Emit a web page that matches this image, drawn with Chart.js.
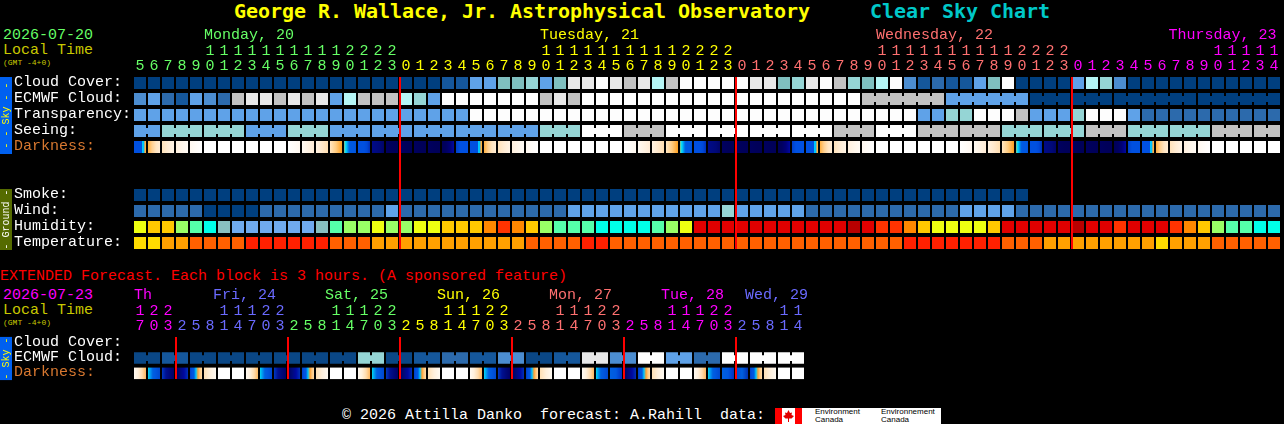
<!DOCTYPE html>
<html><head><meta charset="utf-8">
<script src="https://cdn.jsdelivr.net/npm/chart.js@4"></script>
<style>
html,body{margin:0;padding:0;background:#000;overflow:hidden}
#page{position:relative;width:1284px;height:424px;background:#000;overflow:hidden}
canvas{position:absolute;left:0}
.t{position:absolute;white-space:pre;font:15px/16px "Liberation Mono",monospace}
.title{font:bold 20px/24px "DejaVu Sans Mono",monospace;letter-spacing:-0.04px}
.s{font:8px/9px "Liberation Mono",monospace;color:#c8c800}
.logo{position:absolute;font:8px/8px "Liberation Sans",sans-serif;color:#000;white-space:pre}
.r{position:absolute}
</style></head><body><div id="page">
<div class="t title" style="left:234px;top:-1px;color:#ffff00">George R. Wallace, Jr. Astrophysical Observatory</div>
<div class="t title" style="left:870px;top:-1px;color:#00c8c8">Clear Sky Chart</div>
<div class="t" style="left:3px;top:28px;color:#66ff66">2026-07-20</div>
<div class="t" style="left:3px;top:43px;color:#c8c800">Local Time</div>
<div class="t s" style="left:3px;top:58px">(GMT -4+0)</div>
<canvas id="main" width="1284" height="265" style="top:0"></canvas>
<div class="t" style="left:0;top:269px;color:#ff0000">EXTENDED Forecast. Each block is 3 hours. (A sponsored feature)</div>
<div class="t" style="left:3px;top:288px;color:#ff00ff">2026-07-23</div>
<div class="t" style="left:3px;top:303px;color:#c8c800">Local Time</div>
<div class="t s" style="left:3px;top:318px">(GMT -4+0)</div>
<canvas id="ext" width="1284" height="125" style="top:265px"></canvas>
<div class="t" style="left:342px;top:408px;color:#fff">© 2026 Attilla Danko  forecast: A.Rahill  data:</div>
<div class="r" style="left:775px;top:408px;width:166px;height:16px;background:#fff"></div>
<div class="r" style="left:775px;top:408px;width:7px;height:16px;background:#ff0000"></div>
<div class="r" style="left:795px;top:408px;width:7px;height:16px;background:#ff0000"></div>
<svg class="r" style="left:782px;top:408px" width="13" height="16"><polygon fill="#e00000" points="6.5,2 8,5 10,4.5 9.5,7 12,8 9.5,10.5 7,10.5 7,14 6,14 6,10.5 3.5,10.5 1,8 3.5,7 3,4.5 5,5" /></svg>
<div class="logo" style="left:815px;top:408px">Environment
Canada</div>
<div class="logo" style="left:881px;top:408px">Environnement
Canada</div>
</div>
<script>
// ---------- Main forecast (one block per hour) ----------
const hours = [5,6,7,8,9,10,11,12,13,14,15,16,17,18,19,20,21,22,23,
 0,1,2,3,4,5,6,7,8,9,10,11,12,13,14,15,16,17,18,19,20,21,22,23,
 0,1,2,3,4,5,6,7,8,9,10,11,12,13,14,15,16,17,18,19,20,21,22,23,
 0,1,2,3,4,5,6,7,8,9,10,11,12,13,14];
const cloudCover = [0,0,0,0,0,0,0,0,0,0,0,0,0,0,0,0,0,0,0,0,0,0,1,1,4,4,5,5,6,4,5,9,9,10,9,8,9,7,8,10,10,10,10,10,9,9,5,6,9,10,8,6,5,7,10,3,1,2,1,1,4,5,10,0,0,0,0,4,7,6,3,0,0,0,0,0,0,0,0,0,0,0];
const ecmwfCloud = [3,4,2,1,4,3,2,8,9,9,8,9,8,9,4,7,8,8,8,7,6,4,10,10,10,10,10,10,10,8,9,8,10,10,10,10,10,10,10,10,10,10,10,10,10,10,10,10,10,10,10,10,8,8,8,8,8,8,4,4,4,4,4,4,0,0,0,0,0,0,0,0,0,0,0,0,0,0,0,0,0,0];
const ecmwfBlockEnds = [57,63,66,69,75];
const ecmwfBlockFrom = 52;
const transparency = [4,4,4,4,4,4,4,4,4,4,4,4,4,4,4,4,4,4,4,4,4,4,4,4,10,10,10,10,10,10,10,10,10,10,10,10,10,10,10,10,10,10,10,10,10,10,10,10,10,10,10,10,10,10,10,10,4,4,6,6,10,10,10,8,4,4,4,6,10,10,10,4,2,2,2,2,2,2,2,2,2,2];
const seeing = [4,4,6,6,6,6,6,6,4,4,4,6,6,6,4,4,4,4,4,4,4,4,4,4,4,4,4,4,4,6,6,6,10,10,10,8,8,8,10,10,10,10,10,10,10,10,10,10,10,10,8,8,8,10,10,10,8,8,8,8,8,8,6,6,6,6,6,6,8,8,8,6,6,6,6,6,6,8,8,8,8,8];
const darkness = ["D","e","f","g","h","w","w","w","w","w","w","i","j","k","l","U","V","X","N","N","N","N","P","Q",
 "D","e","f","g","h","w","w","w","w","w","w","i","j","k","l","U","V","X","N","N","N","N","P","Q",
 "D","e","f","g","h","w","w","w","w","w","w","i","j","k","l","U","V","X","N","N","N","N","P","Q",
 "D","e","f","g","h","w","w","w","w","w"];
const smoke = [0,0,0,0,0,0,0,0,0,0,0,0,0,0,0,0,0,0,0,0,0,0,0,0,0,0,0,0,0,0,0,0,0,0,0,0,0,0,0,0,0,0,0,0,0,0,0,0,0,0,0,0,0,0,0,0,0,0,0,0,0,0,0,0];
const wind = [2,2,2,2,2,0,0,0,0,2,2,2,2,2,2,2,2,2,4,2,2,2,2,2,2,2,2,2,2,2,2,4,4,4,4,4,4,4,4,4,4,4,6,4,4,4,4,4,2,2,2,2,2,2,2,2,2,2,2,4,4,4,4,2,2,2,2,2,2,2,2,2,2,2,2,2,2,2,2,2,2,2];
const humidity = [5,6,6,4,3,2,1,0,0,0,0,0,0,1,3,4,4,5,4,4,5,5,6,6,6,7,8,7,6,4,3,3,3,2,2,2,2,3,4,5,9,9,9,9,9,9,9,9,9,9,9,10,9,8,8,7,6,5,5,5,5,6,9,9,9,9,9,10,9,9,8,9,9,9,8,7,6,4,3,3,2,2];
const temperature = [0,0,1,1,2,2,2,2,3,3,3,3,3,3,2,2,2,1,1,1,1,1,1,1,1,1,1,1,2,2,2,2,3,3,2,2,2,2,2,2,2,2,2,2,2,2,2,2,2,2,2,2,2,2,2,3,3,3,3,3,3,3,2,2,2,1,1,1,1,1,1,1,1,0,1,1,1,2,2,2,2,2];
const mainRows = ["Cloud Cover:","ECMWF Cloud:","Transparency:","Seeing:","Darkness:","","","Smoke:","Wind:","Humidity:","Temperature:"];
const mainDayNames = ["Monday, 20","Tuesday, 21","Wednesday, 22","Thursday, 23"];
const mainDayCols = [5,29,53,73.9];

// ---------- Extended forecast (one block per 3 hours) ----------
const extHours = [17,20,23,2,5,8,11,14,17,20,23,2,5,8,11,14,17,20,23,2,5,8,11,14,17,20,23,2,5,8,11,14,17,20,23,2,5,8,11,14,17,20,23,2,5,8,11,14];
const extEcmwf = [11,11,1,1,11,11,11,11,11,11,11,11,11,11,11,11,6,6,11,11,1,1,2,2,1,1,3,3,11,11,1,1,9,9,3,3,10,10,4,4,2,2,10,10,10,10,10,10];
const extDarkness = ["r","s","t","u","v","x","w","w","r","s","t","u","v","x","w","w","r","s","t","u","v","x","w","w","r","s","t","u","v","x","w","w","r","s","T","u","v","x","w","w","r","s","T","Y","v","x","w","w"];
const extRows = ["Cloud Cover:","ECMWF Cloud:","Darkness:"];
const extDayNames = ["Th","Fri, 24","Sat, 25","Sun, 26","Mon, 27","Tue, 28","Wed, 29"];
const extDayCols = [0,5.64,13.64,21.64,29.64,37.64,43.64];

// ---------- Palettes ----------
const GREEN="#66ff66",YEL="#ffff00",SALMON="#ff7070",MAG="#ff00ff",PERI="#6a6aff";
const mainDayColors=[GREEN,YEL,SALMON,MAG];
const extDayColors=[MAG,PERI,GREEN,YEL,SALMON,MAG,PERI];
const skyColors=["#003f7f","#15579b","#2c6aac","#4c8dd0","#5fa2e8","#7fbfbf","#95d5d5","#b5f5f5","#c2c2c2","#e8e8e8","#fdfdfd","#0a4786"];
const humidityColors=["#70aaee","#88c0c0","#00ffe8","#55ffaa","#99ff66","#eeff11","#ffc800","#ff8800","#ff3300","#e00000","#b80000"];
const tempColors=["#ffdc00","#ffa000","#ff6000","#ff2000"];
const darkStops={
 D:["#0050e0","#0050e0","#0050e0","#0050e0","#0050e0","#0050e0","#0050e0","#0050e0","#00e8ff","#00b0ff","#ffb040","#ffb040"],
 e:["#ffb040","#ffd090","#ffe4c0","#ffecd4"],
 f:["#ffe2ba","#ffecd4","#fff4e6"],
 g:["#fff0de","#fff6ea","#fffbf5"],
 h:["#fff8f0","#fffcf8","#ffffff"],
 w:["#ffffff","#ffffff"],
 i:["#ffffff","#fffcf8","#fff8f0"],
 j:["#fffaf3","#fff3e4","#ffecd6"],
 k:["#fff2e2","#ffe8cc","#ffdeb0"],
 l:["#ffe6c2","#ffcc80","#ffa020"],
 U:["#90c080","#00e0ff","#00a0f0","#0060e0","#0058e0","#0058e0","#0058e0","#0050d8"],
 V:["#0050e0","#0050e0","#0050e0","#0048d8","#0030b8"],
 X:["#000a88","#000a80","#000878","#000468"],
 N:["#000060","#00005a","#000058"],
 P:["#000058","#000060","#000078","#0008a0"],
 Q:["#0040c8","#0050e0","#0050e0","#0050e0"],
 r:["#fffaf2","#fff0dc","#ffdcae","#ffb860"],
 s:["#00d8f0","#0098f0","#0060e0","#0058e0","#0050d8","#0048d0"],
 t:["#0038c0","#001090","#000878","#000068"],
 T:["#0060e0","#0058e0","#0030c0"],
 u:["#000060","#000a78","#0008a0","#0030b8"],
 Y:["#0048d0","#0060e0","#0030b0"],
 v:["#0040c8","#0050e0","#0058e0","#00c8ff","#ffa030","#ffc880","#ffdca8"],
 x:["#ffe0b4","#fff0dc","#fffaf2"]
};
const MONO='"Liberation Mono",monospace';
const CELL_HALF=0.375, BRIDGE_HALF=0.1875, NOTCH=6/14;

function cells(values,row,colors){
  return {data:values.map((v,i)=>({x:i,y:[row-CELL_HALF,row+CELL_HALF]})),
    backgroundColor:values.map(v=>colors[v]),barThickness:12,grouped:false,inflateAmount:0,borderWidth:0};
}
function bridges(values,row,colors,joined){
  const idx=values.map((v,i)=>i).filter(i=>i<values.length-1&&joined(i));
  return {data:idx.map(i=>({x:i+0.5,y:[row-BRIDGE_HALF,row+BRIDGE_HALF]})),
    backgroundColor:idx.map(i=>colors[values[i]]),barThickness:2,grouped:false,inflateAmount:0,borderWidth:0};
}
function gradientCells(tokens,row){
  return {data:tokens.map((v,i)=>({x:i,y:[row-CELL_HALF,row+CELL_HALF]})),barThickness:12,grouped:false,inflateAmount:0,borderWidth:0,
    backgroundColor(c){
      if(c.type!=="data")return "#000";
      const stops=darkStops[tokens[c.dataIndex]];
      const px=c.chart.scales.x.getPixelForValue(c.dataIndex);
      if(!isFinite(px))return stops[0];
      const g=c.chart.ctx.createLinearGradient(px-6,0,px+6,0);
      stops.forEach((s,k)=>g.addColorStop(k/(stops.length-1),s));
      return g;
    }};
}
function midnightLine(cols,lastRow){
  return {order:-1,data:cols.map(i=>({x:i-NOTCH,y:[-CELL_HALF,lastRow+CELL_HALF]})),backgroundColor:"#ff0000",barThickness:2,grouped:false,inflateAmount:0,borderWidth:0};
}
function dayIndex(hs){let d=0;return hs.map((h,i)=>{if(i&&h<hs[i-1])d++;return d;});}
function midnights(hs){return hs.map((h,i)=>i).filter(i=>i&&hs[i]<hs[i-1]);}

const headPlugin={id:"head",afterDraw(chart,_,o){
  const c=chart.ctx,x=chart.scales.x,y=chart.scales.y,top=chart.chartArea.top;
  c.save();c.textBaseline="middle";c.textAlign="left";c.font="15px "+MONO;
  o.names.forEach((n,k)=>{c.fillStyle=o.colors[k];c.fillText(n,x.getPixelForValue(o.cols[k])-6,top-40);});
  o.bars.forEach(b=>{
    const a=y.getPixelForValue(b.from-CELL_HALF),e=y.getPixelForValue(b.to+CELL_HALF)+1;
    c.fillStyle=b.fill;c.fillRect(0,a,12,e-a);
    c.save();c.translate(6,(a+e)/2);c.rotate(-Math.PI/2);c.textAlign="center";c.font="10px "+MONO;c.fillStyle=b.ink;c.fillText(b.text,0,0);c.restore();
  });
  c.restore();
}};

function build(id,hs,rows,datasets,bottomPad,rightPad,topH,dayColors,names,cols,bars){
  const days=dayIndex(hs);
  new Chart(document.getElementById(id),{type:"bar",plugins:[headPlugin],
    data:{datasets},
    options:{responsive:false,animation:false,devicePixelRatio:1,
      layout:{padding:{left:14,right:rightPad,top:0,bottom:bottomPad}},
      plugins:{legend:{display:false},tooltip:{enabled:false},title:{display:false},
        head:{names,cols,colors:names.map((_,k)=>dayColors[k]),bars}},
      scales:{
        x:{type:"linear",position:"top",offset:false,min:-0.5,max:hs.length-0.5,
          afterBuildTicks:s=>{s.ticks=hs.map((_,i)=>({value:i}));},
          afterFit:s=>{s.height=topH;},
          grid:{display:false,drawTicks:false,offset:false},border:{display:false},
          ticks:{autoSkip:false,maxRotation:0,minRotation:0,padding:1,
            font:{family:MONO,size:15,lineHeight:1},
            color:c=>dayColors[days[c.index]],
            callback:(v)=>{const h=hs[v];return h>9?[String(Math.floor(h/10)),String(h%10)]:[" ",String(h)];}}},
        y:{type:"linear",reverse:true,offset:false,min:-0.5,max:rows.length-0.5,
          afterBuildTicks:s=>{s.ticks=rows.map((_,i)=>({value:i}));},
          afterFit:s=>{s.width=119;},
          grid:{display:false,drawTicks:false},border:{display:false},
          ticks:{autoSkip:false,crossAlign:"far",padding:0,labelOffset:-1,
            font:{family:MONO,size:15},
            color:c=>rows[c.index]==="Darkness:"?"#d87830":"#ffffff",
            callback:v=>rows[v]}}
      }}});
}

const seeingJoined=i=>i%3!==1;
const ecmwfJoined=i=>i>=ecmwfBlockFrom&&!ecmwfBlockEnds.includes(i);

build("main",hours,mainRows,[
  midnightLine(midnights(hours),10),
  cells(cloudCover,0,skyColors),
  cells(ecmwfCloud,1,skyColors),bridges(ecmwfCloud,1,skyColors,ecmwfJoined),
  cells(transparency,2,skyColors),
  cells(seeing,3,skyColors),bridges(seeing,3,skyColors,seeingJoined),
  gradientCells(darkness,4),
  cells(smoke,7,skyColors),
  cells(wind,8,skyColors),
  cells(humidity,9,humidityColors),
  cells(temperature,10,tempColors)
],14,3,75,mainDayColors,mainDayNames,mainDayCols,[
  {from:0,to:4,fill:"#0060f0",ink:"#ffff00",text:"- - Sky - -"},
  {from:7,to:10,fill:"#556b00",ink:"#ffffff",text:"- Ground -"}
]);

build("ext",extHours,extRows,[
  midnightLine(midnights(extHours),2),
  cells(extEcmwf,1,skyColors),bridges(extEcmwf,1,skyColors,i=>i%2===0),
  gradientCells(extDarkness,2)
],7,479,70,extDayColors,extDayNames,extDayCols,[
  {from:0,to:2,fill:"#0060f0",ink:"#ffff00",text:"- Sky -"}
]);
</script></body></html>
